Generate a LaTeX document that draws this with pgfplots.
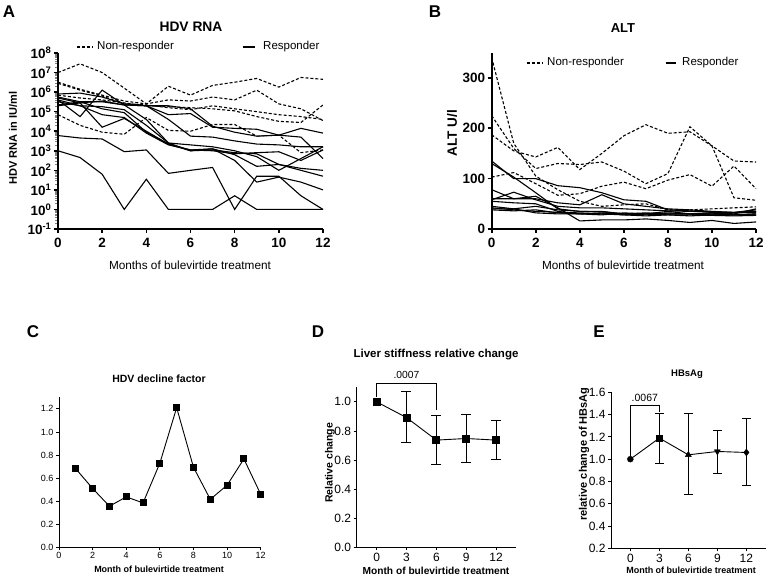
\documentclass[border=0pt]{standalone}
\usepackage{pgfplots}
\usepackage{pgfplotstable}
\pgfplotsset{compat=1.18}
\usepackage{fontspec}
\setmainfont{Liberation Sans}
\newcommand\fs[1]{\fontsize{#1}{#1}\selectfont}

\pgfplotstableread{
m d1 d2 d3 d4 d5 s1 s2 s3 s4 s5 s6 s7 s8 sa sb
0 1e7 3.2e6 2.8e6 7e5 7e4 8e5 2e5 4e5 5e5 3.2e5 2.2e5 5.6e5 4e5 1e3 6e3
1 2.8e7 1.4e6 1.26e6 5e5 2e4 8.9e5 2.8e5 5.6e4 2.8e5 2e5 3.2e5 3.2e5 2e5 450 4.5e3
2 1e7 7e5 6.3e5 4e5 8.9e3 5.6e5 3.5e5 1.26e6 1.6e4 7e4 3.2e5 1.4e5 1.8e5 63 4e3
3 1.6e6 3.5e5 2.5e5 2.8e5 7e3 2.5e5 2.2e5 2.2e5 4.5e4 5e4 2.2e5 8.9e4 1.26e5 1 9e2
4 2.5e5 2.5e5 2.2e5 2e5 5e4 2e5 2e5 4e4 1e4 8e3 2e5 8.9e3 2e4 35 1.1e3
5 2e6 4e5 1.6e5 1.8e5 1.1e4 7e4 2e5 2.5e3 2.2e3 2e3 4e4 2.2e3 2.5e3 1 70
6 7e5 3.5e5 1.26e5 1.6e5 1e4 8e4 1.4e5 1e3 1e3 1.1e3 5.6e3 1.1e3 2e3 1 100
7 2.2e6 5.6e5 2e5 1.4e5 2.2e4 1.6e4 1.8e4 1.26e3 1.1e3 1.26e3 5e3 1e3 1.6e3 1 140
8 3.2e6 4e5 1.4e5 1.1e5 2.2e4 1.4e4 8.9e3 320 800 630 3.2e3 700 1e3 5 1
9 5e6 1.26e6 1e5 5.6e4 5.6e3 1.26e4 5.6e3 25 700 160 2.2e3 800 500 1 50
10 1.8e6 2.5e5 7e4 3.2e4 6.3e3 6.3e3 6.3e3 45 200 200 2e3 890 100 1 50
11 5.6e6 1.4e5 5.6e4 2.8e4 800 1.4e4 5e3 25 100 126 1.6e3 320 400 1 5
12 4.5e6 3.5e4 4e4 2.2e5 1.1e3 8e3 400 10 50 100 1.6e3 1.1e3 1.6e3 1 1
}\Atab

\pgfplotstableread{
m d1 d2 d3 d4 s1 s2 s3 s4 s5 s6 s7 s8 s9 s10
0 340 225 187 103 135 130 78 60 58 45 42 40 55 38
1 170 160 155 112 100 103 60 60 73 40 38 40 52 36
2 105 120 143 90 100 72 65 60 58 45 35 32 50 38
3 78 130 162 67 86 40 42 52 45 38 33 30 35 32
4 55 128 118 70 82 35 16 48 42 35 32 30 30 30
5 45 133 150 85 72 34 18 68 42 35 30 32 30 28
6 48 115 185 93 58 30 18 50 40 30 30 28 28 32
7 50 90 207 80 55 32 20 45 38 30 28 30 26 30
8 38 110 190 97 38 30 17 40 36 32 30 28 28 35
9 38 203 193 108 36 30 13 38 35 30 30 26 28 30
10 40 165 165 85 33 30 17 35 34 30 28 28 27 32
11 42 62 135 125 32 32 11 33 33 28 28 28 26 30
12 44 57 133 80 35 33 14 38 35 30 30 28 27 40
}\Btab

\pgfplotstableread{
m v
1 0.68
2 0.51
3 0.356
4 0.437
5 0.385
6 0.729
7 1.21
8 0.694
9 0.416
10 0.538
11 0.766
12 0.46
}\Ctab

\tikzset{
  nr/.style={black, line width=1.1pt, dash pattern=on 3pt off 2pt},
  re/.style={black, line width=1.1pt},
}
\pgfplotsset{
  gp/.style={scale only axis, anchor=south west, axis x line*=bottom, axis y line*=left,
    tick align=outside, clip=false, major tick style={black}},
  big/.style={gp, axis line style={line width=1.6pt}, major tick length=4pt,
    major tick style={line width=1.6pt},
    tick label style={font=\fs{13.5}\bfseries}},
  small/.style={gp, axis line style={line width=0.8pt}, major tick length=3pt,
    major tick style={line width=0.8pt}},
}

\begin{document}
\begin{tikzpicture}
\useasboundingbox (0pt,0pt) rectangle (767pt,578pt);

% ---------------- Panel A ----------------
\begin{axis}[big, at={(58pt,349pt)}, width=265pt, height=176pt,
  xmin=0, xmax=12, ymode=log, ymin=0.1, ymax=1e8,
  xtick={0,2,4,6,8,10,12}, xticklabels={0,2,4,6,8,10,12},
  ytick={0.1,1,10,100,1000,1e4,1e5,1e6,1e7,1e8},
  yticklabels={{10\textsuperscript{-1}},{10\textsuperscript{0}},{10\textsuperscript{1}},{10\textsuperscript{2}},{10\textsuperscript{3}},{10\textsuperscript{4}},{10\textsuperscript{5}},{10\textsuperscript{6}},{10\textsuperscript{7}},{10\textsuperscript{8}}},
  xticklabel style={yshift=-2pt}, yticklabel style={xshift=1pt}]
\pgfplotsinvokeforeach{d1,d2,d3,d4,d5}{\addplot[nr] table[x=m,y=#1] {\Atab};}
\pgfplotsinvokeforeach{s1,s2,s3,s4,s5,s6,s7,s8,sa,sb}{\addplot[re] table[x=m,y=#1] {\Atab};}
\end{axis}
\node[font=\fs{17}\bfseries] at (9pt,566pt) {A};
\node[font=\fs{13.8}\bfseries] at (191pt,551pt) {HDV RNA};
\draw[nr] (77pt,531pt) -- (93pt,531pt);
\node[font=\fs{11.5}, anchor=west, inner sep=0pt] at (97pt,531pt) {Non-responder};
\draw[re] (243pt,531pt) -- (255pt,531pt);
\node[font=\fs{11.5}, anchor=west, inner sep=0pt] at (263pt,531pt) {Responder};
\node[font=\fs{11}\bfseries, rotate=90] at (13pt,440pt) {HDV RNA in IU/ml};
\node[font=\fs{11.8}] at (190pt,313pt) {Months of bulevirtide treatment};

% ---------------- Panel B ----------------
\begin{axis}[big, at={(491.7pt,349pt)}, width=264.3pt, height=176.3pt,
  xmin=0, xmax=12, ymin=0, ymax=350,
  xtick={0,2,4,6,8,10,12}, xticklabels={0,2,4,6,8,10,12},
  ytick={0,100,200,300}, yticklabels={0,100,200,300},
  xticklabel style={yshift=-2pt}, yticklabel style={xshift=1pt}]
\pgfplotsinvokeforeach{d1,d2,d3,d4}{\addplot[nr] table[x=m,y=#1] {\Btab};}
\pgfplotsinvokeforeach{s1,s2,s3,s4,s5,s6,s7,s8,s9,s10}{\addplot[re] table[x=m,y=#1] {\Btab};}
\end{axis}
\node[font=\fs{17}\bfseries] at (435pt,566pt) {B};
\node[font=\fs{13}\bfseries] at (623pt,550pt) {ALT};
\draw[nr] (527pt,515pt) -- (543pt,515pt);
\node[font=\fs{11.5}, anchor=west, inner sep=0pt] at (547pt,515pt) {Non-responder};
\draw[re] (666pt,515pt) -- (676pt,515pt);
\node[font=\fs{11.5}, anchor=west, inner sep=0pt] at (682pt,515pt) {Responder};
\node[font=\fs{13.5}\bfseries, rotate=90] at (452pt,445pt) {ALT U/l};
\node[font=\fs{11.8}] at (623pt,313pt) {Months of bulevirtide treatment};

% ---------------- Panel C ----------------
\begin{axis}[small, at={(59pt,30.7pt)}, width=201.7pt, height=150pt,
  xmin=0, xmax=12, ymin=0, ymax=1.3,
  xtick={0,2,4,6,8,10,12}, xticklabels={0,2,4,6,8,10,12},
  ytick={0,0.2,0.4,0.6,0.8,1.0,1.2}, yticklabels={0.0,0.2,0.4,0.6,0.8,1.0,1.2},
  tick label style={font=\fs{9}}, yticklabel style={xshift=1pt}, xticklabel style={yshift=2pt}]
\addplot[black, line width=0.9pt, mark=square*, mark size=3pt] table[x=m,y=v] {\Ctab};
\end{axis}
\node[font=\fs{17}\bfseries] at (33pt,246pt) {C};
\node[font=\fs{10.5}\bfseries] at (159pt,199pt) {HDV decline factor};
\node[font=\fs{9}\bfseries] at (159pt,9pt) {Month of bulevirtide treatment};

% ---------------- Panel D ----------------
\begin{axis}[small, at={(356.7pt,30.7pt)}, width=159.3pt, height=160pt,
  xmin=-2, xmax=14, ymin=0, ymax=1.1,
  xtick={0,3,6,9,12}, xticklabels={0,3,6,9,12},
  ytick={0,0.2,0.4,0.6,0.8,1.0}, yticklabels={0.0,0.2,0.4,0.6,0.8,1.0},
  tick label style={font=\fs{12}}, yticklabel style={xshift=1pt}, xticklabel style={yshift=1pt}]
\addplot[black, line width=0.9pt, mark=square*, mark size=3.5pt,
  error bars/.cd, y dir=both, y explicit, error bar style={line width=0.9pt},
  error mark options={rotate=90, mark size=5pt, line width=0.9pt}]
  coordinates {(0,1.0) (3,0.892) += (0,0.181) -= (0,0.171)
   (6,0.737) += (0,0.167) -= (0,0.165)
   (9,0.748) += (0,0.167) -= (0,0.165)
   (12,0.737) += (0,0.133) -= (0,0.134)};
\draw[line width=0.8pt] (axis cs:0,1.035) -- (axis cs:0,1.126) -- (axis cs:6,1.126) -- (axis cs:6,0.943);
\node[font=\fs{10.3}] at (axis cs:3,1.183) {.0007};
\end{axis}
\node[font=\fs{17}\bfseries] at (318pt,246pt) {D};
\node[font=\fs{11.5}\bfseries] at (436pt,223pt) {Liver stiffness relative change};
\node[font=\fs{10.5}\bfseries, rotate=90] at (330pt,115pt) {Relative change};
\node[font=\fs{10.2}\bfseries] at (436pt,7pt) {Month of bulevirtide treatment};

% ---------------- Panel E ----------------
\begin{axis}[small, at={(611pt,29.7pt)}, width=154.7pt, height=156pt,
  xmin=-2, xmax=14, ymin=0.2, ymax=1.6,
  xtick={0,3,6,9,12}, xticklabels={0,3,6,9,12},
  ytick={0.2,0.4,0.6,0.8,1.0,1.2,1.4,1.6}, yticklabels={0.2,0.4,0.6,0.8,1.0,1.2,1.4,1.6},
  tick label style={font=\fs{12}}, yticklabel style={xshift=1pt}, xticklabel style={yshift=1pt}]
\addplot[black, line width=0.9pt, no marks,
  error bars/.cd, y dir=both, y explicit, error bar style={line width=0.9pt},
  error mark options={rotate=90, mark size=4.5pt, line width=0.9pt}]
  coordinates {(0,1.0) (3,1.189) += (0,0.219) -= (0,0.231)
   (6,1.039) += (0,0.369) -= (0,0.36)
   (9,1.069) += (0,0.189) -= (0,0.195)
   (12,1.06) += (0,0.303) -= (0,0.3)};
\addplot[only marks, black, mark=*, mark size=3pt] coordinates {(0,1.0)};
\addplot[only marks, black, mark=square*, mark size=3pt] coordinates {(3,1.189)};
\addplot[only marks, black, mark=triangle*, mark size=3.5pt] coordinates {(6,1.039)};
\addplot[only marks, black, mark=triangle*, mark size=3.5pt, mark options={rotate=180}] coordinates {(9,1.069)};
\addplot[only marks, black, mark=diamond*, mark size=3.5pt] coordinates {(12,1.06)};
\draw[line width=0.8pt] (axis cs:0,1.03) -- (axis cs:0,1.483) -- (axis cs:3,1.483) -- (axis cs:3,1.423);
\node[font=\fs{10.5}] at (axis cs:1.5,1.549) {.0067};
\end{axis}
\node[font=\fs{17}\bfseries] at (599pt,246pt) {E};
\node[font=\fs{9.5}\bfseries] at (687pt,204pt) {HBsAg};
\node[font=\fs{11}\bfseries, rotate=90] at (584pt,124pt) {relative change of HBsAg};
\node[font=\fs{9}\bfseries] at (691pt,8pt) {Month of bulevirtide treatment};
\end{tikzpicture}
\end{document}
